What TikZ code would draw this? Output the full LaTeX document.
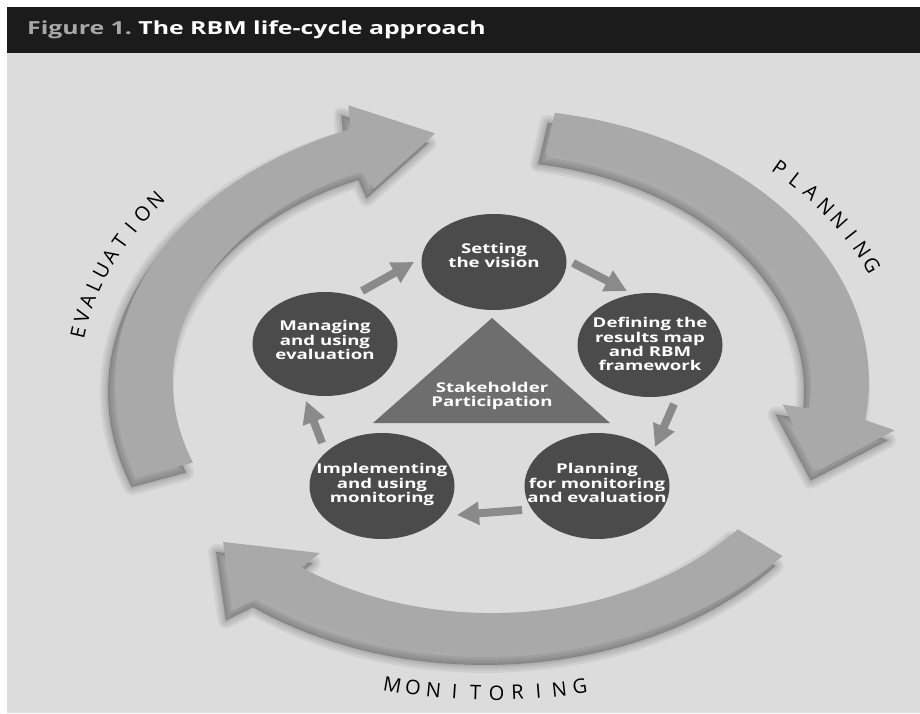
\documentclass[tikz,border=0pt]{standalone}
\usepackage{fontspec}
\setmainfont{Open Sans}
\usepackage{graphicx}
\usetikzlibrary{shapes.geometric,arrows.meta}
\definecolor{bgc}{HTML}{DCDCDC}
\definecolor{headc}{HTML}{1B1B1B}
\definecolor{figc}{HTML}{A8A8A8}
\definecolor{bigc}{HTML}{A9A9A9}
\definecolor{ellc}{HTML}{4B4B4B}
\definecolor{tric}{HTML}{6E6E6E}
\definecolor{smallc}{HTML}{8A8A8A}
\newcommand\sx[1]{\scalebox{1.38}[1]{\begin{tabular}{@{}c@{}}#1\end{tabular}}}
\tikzset{
  ell/.style={ellipse, fill=ellc, inner sep=0pt, minimum width=145pt},
  txt/.style={inner sep=0pt, text=white, font=\fontsize{13.5}{13.3}\selectfont\bfseries},
  lab/.style={inner sep=0pt, text=black, text height=14pt, text depth=0pt, font=\fontsize{20}{22}\selectfont},
  smallarr/.style={draw=smallc, line width=8pt, -{Triangle[width=22pt,length=22pt]}}
}
\begin{document}
\begin{tikzpicture}[x=1pt,y=1pt]
\useasboundingbox (0,0) rectangle (920,713);
\fill[white] (0,0) rectangle (920,713);
\fill[bgc] (7,0) rectangle (920,660);
\fill[headc] (7,660) rectangle (920,706);
\node[anchor=base west, inner sep=0pt, font=\fontsize{18}{20}\selectfont\bfseries] (title) at (27,678)
  {\scalebox{1.38}[1]{\textcolor{figc}{Figure 1.}\ \textcolor{white}{The RBM life-cycle approach}}};

% big arrows: soft shadow, offset down-left
\foreach \w in {16,11,6,2} {
  \begin{scope}[shift={(485,321)}, xscale=348, yscale=252]
    \foreach \P in {99.4,-20.6,219.4}
      \filldraw[black, fill opacity=0.06, draw opacity=0.06, line width=\w pt, line join=round]
        (\P+101:1.083) arc[start angle=\P+101, end angle=\P+12.6, radius=1.083]
        -- (\P+11.2:1.173) -- (\P:1) -- (\P+14.5:0.84) -- (\P+14:0.917)
        arc[start angle=\P+14, end angle=\P+101, radius=0.917] -- cycle;
  \end{scope}
}
% big arrows
\begin{scope}[shift={(492,331)}, xscale=348, yscale=252]
  \foreach \P in {99.4,-20.6,219.4}
    \fill[bigc]
      (\P+101:1.083) arc[start angle=\P+101, end angle=\P+12.6, radius=1.083]
      -- (\P+11.2:1.173) -- (\P:1) -- (\P+14.5:0.84) -- (\P+14:0.917)
      arc[start angle=\P+14, end angle=\P+101, radius=0.917] -- cycle;
\end{scope}

% labels
\foreach \c [count=\i] in {E,V,A,L,U,A,T,I,O,N} {
  \pgfmathsetmacro\th{170.7-(\i-1)*3.04}
  \pgfmathsetmacro\rot{atan2(-252*cos(\th),348*sin(\th))}
  \node[lab, rotate=\rot] (ev\i) at ({492+1.205*348*cos(\th)},{331+1.205*252*sin(\th)}) {\c};
}
\foreach \c [count=\i] in {P,L,A,N,N,I,N,G} {
  \pgfmathsetmacro\th{45.8-(\i-1)*3.26}
  \pgfmathsetmacro\rot{atan2(-252*cos(\th),348*sin(\th))}
  \node[lab, rotate=\rot] (pl\i) at ({492+1.185*348*cos(\th)},{331+1.185*252*sin(\th)}) {\c};
}
\foreach \c [count=\i] in {M,O,N,I,T,O,R,I,N,G} {
  \pgfmathsetmacro\th{256.6+(\i-1)*2.8}
  \pgfmathsetmacro\rot{atan2(252*cos(\th),-348*sin(\th))}
  \node[lab, rotate=\rot] (mo\i) at ({492+1.235*348*cos(\th)},{331+1.235*252*sin(\th)}) {\c};
}

% triangle
\fill[tric] (492,395) coordinate (tA) -- (373,290) coordinate (tB) -- (610,290) coordinate (tC) -- cycle;
\node[txt] (stake) at (492,317) {\sx{Stakeholder\\Participation}};

% ellipses
\node[ell, minimum height=96pt] (set) at (494,451) {};
\node[ell, minimum height=104pt] (def) at (650,368) {};
\node[ell, minimum height=106pt] (pla) at (597,227) {};
\node[ell, minimum height=106pt] (imp) at (382,227) {};
\node[ell, minimum height=104pt] (man) at (325,369) {};
\node[txt] (set-t) at (494,456) {\sx{Setting\\the vision}};
\node[txt] (def-t) at (650,367) {\sx{Defining the\\results map\\and RBM\\framework}};
\node[txt] (pla-t) at (597,228) {\sx{Planning\\for monitoring\\and evaluation}};
\node[txt] (imp-t) at (382,228) {\sx{Implementing\\and using\\monitoring}};
\node[txt] (man-t) at (325,371) {\sx{Managing\\and using\\evaluation}};

% small arrows
\coordinate (a1t) at (362,422); \coordinate (a1h) at (414,451);
\coordinate (a2t) at (573,450); \coordinate (a2h) at (627,422);
\coordinate (a3t) at (674,309); \coordinate (a3h) at (655,266);
\coordinate (a4t) at (522,203); \coordinate (a4h) at (457,198);
\coordinate (a5t) at (322,270); \coordinate (a5h) at (306,312);
\draw[smallarr] (a1t) -- (a1h);
\draw[smallarr] (a2t) -- (a2h);
\draw[smallarr] (a3t) -- (a3h);
\draw[smallarr] (a4t) -- (a4h);
\draw[smallarr] (a5t) -- (a5h);
\end{tikzpicture}
\end{document}
